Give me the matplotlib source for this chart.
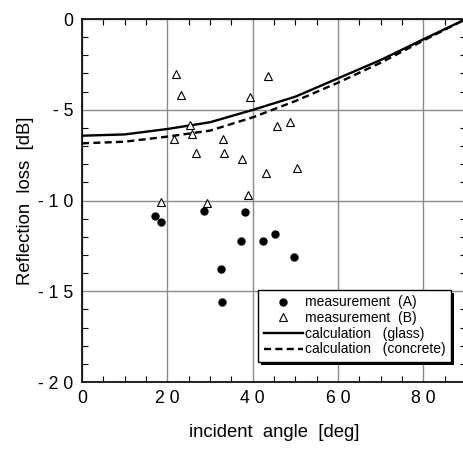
import matplotlib
matplotlib.use("Agg")
import matplotlib.pyplot as plt
from matplotlib.ticker import MultipleLocator, FixedLocator
from matplotlib.patches import Rectangle

plt.rcParams['font.family'] = ['Liberation Sans', 'DejaVu Sans']

# measurement (A)
a_angle = [17.2, 18.4, 28.6, 38.1, 37.2, 42.4, 45.3, 49.6, 32.5, 32.8]
a_loss = [-10.84, -11.2, -10.58, -10.62, -12.23, -12.23, -11.86, -13.11, -13.77, -15.6]

# measurement (B)
b_angle = [22.0, 23.1, 43.7, 39.3, 25.3, 25.7, 21.5, 33.0, 45.8, 48.7,
           26.8, 33.3, 37.5, 43.2, 50.3, 38.8, 18.4, 29.2]
b_loss = [-3.03, -4.17, -3.14, -4.30, -5.86, -6.35, -6.59, -6.61, -5.91, -5.67,
          -7.36, -7.38, -7.73, -8.47, -8.23, -9.70, -10.08, -10.12]

# calculations
calc_angle = [0, 10, 20, 30, 40, 50, 60, 70, 80, 90]
glass_loss = [-6.43, -6.36, -6.06, -5.69, -5.01, -4.28, -3.27, -2.26, -1.12, 0.0]
concrete_loss = [-6.85, -6.76, -6.48, -6.15, -5.42, -4.52, -3.51, -2.41, -1.19, 0.0]

x_ticks = [0, 20, 40, 60, 80]
x_ticklabels = ["0", "2 0", "4 0", "6 0", "8 0"]
y_ticks = [0, -5, -10, -15, -20]
y_ticklabels = ["0", "- 5", "- 1 0", "- 1 5", "- 2 0"]

W, H = 463, 449
fig = plt.figure(figsize=(W / 100, H / 100), dpi=100)
ax = fig.add_axes([82 / W, 1 - 382 / H, (466 - 82) / W, (382 - 19) / H])

ax.plot(a_angle, a_loss, 'o', color='black', markersize=5,
        label='measurement  (A)', zorder=4, clip_on=False)
ax.plot(b_angle, b_loss, '^', markerfacecolor='white', markeredgecolor='black',
        markeredgewidth=0.8, markersize=5.5, label='measurement  (B)', zorder=4)
ax.plot(calc_angle, glass_loss, '-', color='black', lw=1.7,
        label='calculation   (glass)', zorder=3)
ax.plot(calc_angle, concrete_loss, color='black', lw=1.7, linestyle=(0, (3, 1.8)),
        label='calculation   (concrete)', zorder=3)

ax.set_xlim(0, 90)
ax.set_ylim(-20, 0)
ax.xaxis.set_major_locator(FixedLocator(x_ticks))
ax.set_xticklabels(x_ticklabels)
ax.yaxis.set_major_locator(FixedLocator(y_ticks))
ax.set_yticklabels(y_ticklabels)
ax.xaxis.set_minor_locator(MultipleLocator(5))
ax.yaxis.set_minor_locator(MultipleLocator(1))

ax.grid(True, which='major', color='#8a8a8a', lw=1.0)
ax.set_axisbelow(True)
ax.tick_params(which='both', direction='in', top=True, right=True,
               labelsize=12.7, color='black')
ax.tick_params(which='major', length=0, pad=6)
ax.tick_params(which='minor', length=4, width=0.8)
for s in ['left', 'top', 'bottom']:
    ax.spines[s].set_color('black')
    ax.spines[s].set_linewidth(1.2)
ax.spines['right'].set_visible(False)

ax.set_xlabel('incident  angle  [deg]', fontsize=13.3, labelpad=12)
ax.set_ylabel('Reflection  loss  [dB]', fontsize=13.3, labelpad=3)

leg = ax.legend(loc='lower right', bbox_to_anchor=(451 / W, 1 - 362 / H),
                bbox_transform=fig.transFigure, borderaxespad=0,
                fontsize=10, frameon=True, fancybox=False, shadow=False,
                handlelength=2.8, handletextpad=0.15, labelspacing=0.12,
                borderpad=0.4, markerscale=1.0)
frame = leg.get_frame()
frame.set_edgecolor('black')
frame.set_linewidth(1.0)
frame.set_alpha(1)
leg.set_zorder(6)

# drop shadow behind the legend box
fig.canvas.draw()
bb = leg.get_frame().get_window_extent(fig.canvas.get_renderer())
shadow = Rectangle((bb.x0 + 3, bb.y0 - 3), bb.width, bb.height, transform=None,
                   facecolor='black', edgecolor='none', zorder=5.5, clip_on=False)
ax.add_artist(shadow)

fig.savefig('out.png', dpi=100)
